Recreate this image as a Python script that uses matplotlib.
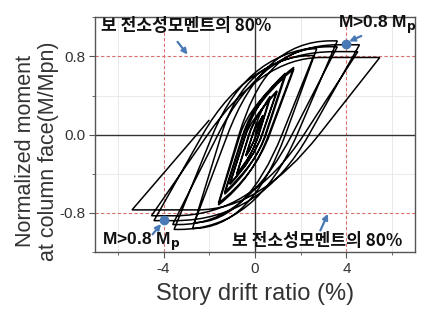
import matplotlib
matplotlib.use("Agg")
import matplotlib.pyplot as plt
from matplotlib.path import Path
from matplotlib.patches import PathPatch

# ---- data (drift %, normalized moment) ----
pos_drift = [0.35, 0.35, 0.66, 0.66, 0.96, 0.96, 1.33, 1.33, 1.70, 1.70,
             2.70, 2.57, 3.60, 3.60, 4.57, 4.50, 5.46]
pos_moment = [0.20, 0.19, 0.39, 0.37, 0.45, 0.44, 0.63, 0.60, 0.69, 0.67,
              0.88, 0.81, 0.96, 0.90, 0.92, 0.85, 0.79]
neg_drift = [-0.40, -0.40, -0.80, -0.80, -1.10, -1.10, -1.33, -1.33, -1.60, -1.60,
             -2.73, -2.65, -3.54, -3.60, -4.42, -4.53, -5.38]
neg_moment = [-0.22, -0.21, -0.41, -0.40, -0.51, -0.50, -0.61, -0.59, -0.72, -0.70,
              -0.96, -0.90, -0.97, -0.92, -0.88, -0.83, -0.77]
# zero-moment crossings of the unloading branches
fall_cross = [0.05, 0.06, 0.15, 0.17, 0.30, 0.32, 0.45, 0.48, 0.60, 0.64,
              1.33, 1.18, 1.84, 1.62, 2.36, 2.14, 2.80]
rise_cross = [-0.10, -0.11, -0.25, -0.27, -0.40, -0.42, -0.50, -0.53, -0.65, -0.70,
              -1.47, -1.20, -1.85, -1.62, -2.29, -2.07, -2.58]
# slope with which the reloading curve arrives at the peak (0 = plateau)
pos_tip = [0.30, 0.30, 0.28, 0.28, 0.25, 0.25, 0.22, 0.22, 0.18, 0.18,
           0.0, 0.0, 0.0, 0.0, 0.0, 0.0, 0.0]
neg_tip = [0.30, 0.30, 0.28, 0.28, 0.25, 0.25, 0.22, 0.22, 0.18, 0.18,
           0.0, 0.0, 0.0, 0.0, 0.0, 0.0, 0.0]
# drift where the reloading curve reaches its plateau
pos_knee = [0.35, 0.35, 0.66, 0.66, 0.96, 0.96, 1.33, 1.33, 1.70, 1.70,
            2.70, 2.57, 3.30, 3.30, 3.60, 3.50, 2.90]
neg_knee = [-0.40, -0.40, -0.80, -0.80, -1.10, -1.10, -1.33, -1.33, -1.60, -1.60,
            -2.73, -2.65, -3.30, -3.30, -3.50, -3.50, -2.50]
end_point = (-2.0, 0.15)

x_ticks = [-4, 0, 4]
y_ticks = [-0.8, 0.0, 0.8]
x_minor = [-6, -2, 2, 6]
y_minor = [-1.2, -0.4, 0.4, 1.2]

dots = [(4.0, 0.93), (-3.96, -0.875)]

plt.rcParams['font.family'] = ['Liberation Sans', 'DejaVu Sans']

fig = plt.figure(figsize=(4.25, 3.11), dpi=100)
ax = fig.add_axes([0.2235, 0.19, 0.7530, 0.754])


def ctrl(xc, s, xe, ye, t):
    # intersection of the line through (xc, 0) with slope s and the
    # line through (xe, ye) with slope t
    x = (ye - t * xe + s * xc) / (s - t)
    lo, hi = min(xc, xe), max(xc, xe)
    x = min(max(x, lo), hi)
    return (x, s * (x - xc))


verts = [(0.0, 0.0)]
codes = [Path.MOVETO]
verts += [ctrl(0.0, 0.65, pos_knee[0], pos_moment[0], pos_tip[0]), (pos_knee[0], pos_moment[0])]
codes += [Path.CURVE3, Path.CURVE3]

n = len(pos_drift)
for i in range(n):
    A, P = pos_drift[i], pos_moment[i]
    An, N = neg_drift[i], neg_moment[i]
    # falling branch
    xf = fall_cross[i]
    verts.append((xf, 0.0)); codes.append(Path.LINETO)
    s = P / (A - xf)
    ex = neg_knee[i]
    verts += [ctrl(xf, s, ex, N, neg_tip[i]), (ex, N)]
    codes += [Path.CURVE3, Path.CURVE3]
    if ex > An:
        verts.append((An, N)); codes.append(Path.LINETO)
    # rising branch
    if i == n - 1:
        verts.append(end_point); codes.append(Path.LINETO)
        break
    xr = rise_cross[i]
    verts.append((xr, 0.0)); codes.append(Path.LINETO)
    s = abs(N) / (xr - An)
    P2 = pos_moment[i + 1]
    ex = pos_knee[i + 1]
    verts += [ctrl(xr, s, ex, P2, pos_tip[i + 1]), (ex, P2)]
    codes += [Path.CURVE3, Path.CURVE3]
    if ex < pos_drift[i + 1]:
        verts.append((pos_drift[i + 1], P2)); codes.append(Path.LINETO)

patch = PathPatch(Path(verts, codes), facecolor='none', edgecolor='black', lw=1.1, zorder=3)

# grid / reference lines
for v in x_minor:
    ax.axvline(v, color='#e6e6e6', lw=0.6, zorder=0)
for v in [-0.4, 0.4]:
    ax.axhline(v, color='#e6e6e6', lw=0.6, zorder=0)
for v in [-4, 4]:
    ax.axvline(v, color='#d87070', lw=0.8, ls=(0, (3, 2)), zorder=1)
for v in [-0.8, 0.8]:
    ax.axhline(v, color='#d87070', lw=0.8, ls=(0, (3, 2)), zorder=1)
ax.axvline(0, color='#333333', lw=1.0, zorder=2)
ax.axhline(0, color='#333333', lw=1.0, zorder=2)

ax.add_patch(patch)

ax.set_xlim(-7, 7)
ax.set_ylim(-1.2, 1.2)
ax.set_xticks(x_ticks)
ax.set_xticklabels([str(t) for t in x_ticks])
ax.set_yticks(y_ticks)
ax.set_yticklabels(['%.1f' % t for t in y_ticks])
ax.set_xticks(x_minor, minor=True)
ax.set_yticks(y_minor, minor=True)
ax.tick_params(which='both', direction='out', color='#555555', labelsize=11, labelcolor='#333333')
ax.tick_params(which='major', length=4, pad=3)
ax.tick_params(which='minor', length=2.5)
for sp in ax.spines.values():
    sp.set_color('#555555')
    sp.set_linewidth(1.0)

ax.set_xlabel('Story drift ratio (%)', fontsize=17, color='#333333', labelpad=5)
fig.text(0.060, 0.515, 'Normalized moment', rotation=90, fontsize=15.5, color='#333333',
         ha='center', va='center')
fig.text(0.113, 0.515, 'at column face(M/Mpn)', rotation=90, fontsize=15.5, color='#333333',
         ha='center', va='center')

blue = '#4a7ab5'
kfont = ['Noto Sans CJK KR', 'DejaVu Sans']
ax.text(-6.75, 1.11, '보 전소성모멘트의 80%', fontsize=12.3, fontweight='bold', family=kfont,
        ha='left', va='center', color='#111111', zorder=5)
ax.text(-1.0, -1.09, '보 전소성모멘트의 80%', fontsize=12.3, fontweight='bold', family=kfont,
        ha='left', va='center', color='#111111', zorder=5)
ax.text(3.62, 1.12, r'M>0.8 M$_\mathregular{\mathbf{p}}$', fontsize=12.5, fontweight='bold',
        ha='left', va='center', color='#111111', zorder=5)
ax.text(-6.7, -1.10, r'M>0.8 M$_\mathregular{\mathbf{p}}$', fontsize=12.5, fontweight='bold',
        ha='left', va='center', color='#111111', zorder=5)

for (x, y) in dots:
    ax.plot(x, y, 'o', color=blue, ms=6, zorder=6)

arr = dict(arrowstyle='-|>', color=blue, lw=1.6, mutation_scale=8, shrinkA=0, shrinkB=0)
ax.annotate('', xy=(-2.95, 0.82), xytext=(-3.39, 0.95), arrowprops=arr, zorder=6)
ax.annotate('', xy=(4.12, 0.955), xytext=(4.65, 1.01), arrowprops=arr, zorder=6)
ax.annotate('', xy=(-4.11, -0.914), xytext=(-4.48, -1.02), arrowprops=arr, zorder=6)
ax.annotate('', xy=(3.19, -0.81), xytext=(2.86, -0.98), arrowprops=arr, zorder=6)

fig.savefig('out.png', dpi=100)
